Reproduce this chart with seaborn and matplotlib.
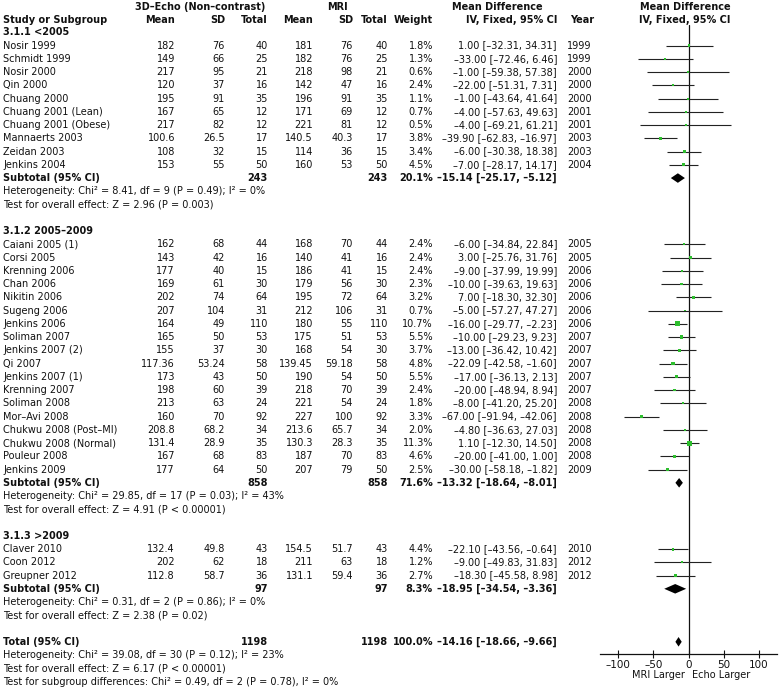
import numpy as np
import pandas as pd
import seaborn as sns
import matplotlib.pyplot as plt

# study level data
study = ["Nosir 1999", "Schmidt 1999", "Nosir 2000", "Qin 2000", "Chuang 2000",
         "Chuang 2001 (Lean)", "Chuang 2001 (Obese)", "Mannaerts 2003", "Zeidan 2003",
         "Jenkins 2004",
         "Caiani 2005 (1)", "Corsi 2005", "Krenning 2006", "Chan 2006", "Nikitin 2006",
         "Sugeng 2006", "Jenkins 2006", "Soliman 2007", "Jenkins 2007 (2)", "Qi 2007",
         "Jenkins 2007 (1)", "Krenning 2007", "Soliman 2008", "Mor-Avi 2008",
         "Chukwu 2008 (Post-MI)", "Chukwu 2008 (Normal)", "Pouleur 2008", "Jenkins 2009",
         "Claver 2010", "Coon 2012", "Greupner 2012"]
group = [0] * 10 + [1] * 18 + [2] * 3
echo_mean = [182, 149, 217, 120, 195, 167, 217, 100.6, 108, 153,
             162, 143, 177, 169, 202, 207, 164, 165, 155, 117.36, 173, 198, 213, 160,
             208.8, 131.4, 167, 177,
             132.4, 202, 112.8]
echo_sd = [76, 66, 95, 37, 91, 65, 82, 26.5, 32, 55,
           68, 42, 40, 61, 74, 104, 49, 50, 37, 53.24, 43, 60, 63, 70, 68.2, 28.9, 68, 64,
           49.8, 62, 58.7]
echo_n = [40, 25, 21, 16, 35, 12, 12, 17, 15, 50,
          44, 16, 15, 30, 64, 31, 110, 53, 30, 58, 50, 39, 24, 92, 34, 35, 83, 50,
          43, 18, 36]
mri_mean = [181, 182, 218, 142, 196, 171, 221, 140.5, 114, 160,
            168, 140, 186, 179, 195, 212, 180, 175, 168, 139.45, 190, 218, 221, 227,
            213.6, 130.3, 187, 207,
            154.5, 211, 131.1]
mri_sd = [76, 76, 98, 47, 91, 69, 81, 40.3, 36, 53,
          70, 41, 41, 56, 72, 106, 55, 51, 54, 59.18, 54, 70, 54, 100, 65.7, 28.3, 70, 79,
          51.7, 63, 59.4]
mri_n = echo_n
weight = [1.8, 1.3, 0.6, 2.4, 1.1, 0.7, 0.5, 3.8, 3.4, 4.5,
          2.4, 2.4, 2.4, 2.3, 3.2, 0.7, 10.7, 5.5, 3.7, 4.8, 5.5, 2.4, 1.8, 3.3, 2.0,
          11.3, 4.6, 2.5,
          4.4, 1.2, 2.7]
md = [1.00, -33.00, -1.00, -22.00, -1.00, -4.00, -4.00, -39.90, -6.00, -7.00,
      -6.00, 3.00, -9.00, -10.00, 7.00, -5.00, -16.00, -10.00, -13.00, -22.09, -17.00,
      -20.00, -8.00, -67.00, -4.80, 1.10, -20.00, -30.00,
      -22.10, -9.00, -18.30]
ci_lo = [-32.31, -72.46, -59.38, -51.31, -43.64, -57.63, -69.21, -62.83, -30.38, -28.17,
         -34.84, -25.76, -37.99, -39.63, -18.30, -57.27, -29.77, -29.23, -36.42, -42.58,
         -36.13, -48.94, -41.20, -91.94, -36.63, -12.30, -41.00, -58.18,
         -43.56, -49.83, -45.58]
ci_hi = [34.31, 6.46, 57.38, 7.31, 41.64, 49.63, 61.21, -16.97, 18.38, 14.17,
         22.84, 31.76, 19.99, 19.63, 32.30, 47.27, -2.23, 9.23, 10.42, -1.60,
         2.13, 8.94, 25.20, -42.06, 27.03, 14.50, 1.00, -1.82,
         -0.64, 31.83, 8.98]
year = [1999, 1999, 2000, 2000, 2000, 2001, 2001, 2003, 2003, 2004,
        2005, 2005, 2006, 2006, 2006, 2006, 2006, 2007, 2007, 2007, 2007, 2007, 2008,
        2008, 2008, 2008, 2008, 2009,
        2010, 2012, 2012]

# subgroup summaries
group_title = ["3.1.1 <2005", "3.1.2 2005-2009", "3.1.3 >2009"]
sub_n = [243, 858, 97]
sub_weight = [20.1, 71.6, 8.3]
sub_md = [-15.14, -13.32, -18.95]
sub_lo = [-25.17, -18.64, -34.54]
sub_hi = [-5.12, -8.01, -3.36]
sub_het = ["Heterogeneity: Chi² = 8.41, df = 9 (P = 0.49); I² = 0%",
           "Heterogeneity: Chi² = 29.85, df = 17 (P = 0.03); I² = 43%",
           "Heterogeneity: Chi² = 0.31, df = 2 (P = 0.86); I² = 0%"]
sub_z = ["Test for overall effect: Z = 2.96 (P = 0.003)",
         "Test for overall effect: Z = 4.91 (P < 0.00001)",
         "Test for overall effect: Z = 2.38 (P = 0.02)"]

total_n = 1198
total_md, total_lo, total_hi = -14.16, -18.66, -9.66
total_notes = ["Heterogeneity: Chi² = 39.08, df = 30 (P = 0.12); I² = 23%",
               "Test for overall effect: Z = 6.17 (P < 0.00001)",
               "Test for subgroup differences: Chi² = 0.49, df = 2 (P = 0.78), I² = 0%"]

xticks = [-100, -50, 0, 50, 100]
side_labels = ["MRI Larger", "Echo Larger"]


def dash(s):
    return s.replace("-", "\u2013")


def num(v):
    return dash(f"{v:g}")


def ci_text(m, lo, hi):
    return dash(f"{m:.2f} [{lo:.2f}, {hi:.2f}]")


# assign a row number to every line of the table
rows = []
r = 0
for g in range(3):
    rows.append(("title", g, r)); r += 1
    for i in [i for i in range(len(study)) if group[i] == g]:
        rows.append(("study", i, r)); r += 1
    rows.append(("sub", g, r)); r += 1
    rows.append(("het", g, r)); r += 1
    rows.append(("z", g, r)); r += 1
    r += 1
total_row = r

df = pd.DataFrame({"study": study, "md": md, "lo": ci_lo, "hi": ci_hi, "weight": weight})
df["row"] = [k for kind, i, k in rows if kind == "study"]

sns.set_theme(style="white")
plt.rcParams["font.family"] = ["DejaVu Sans"]
FS = 7.0

fig = plt.figure(figsize=(7.8, 6.89), dpi=100)
W, H = 780, 689
y0, step = 32.3, 13.25


def row_of(px):
    return (px - y0) / step


tab = fig.add_axes([0, 0, 1, 1])
tab.set_xlim(0, W)
tab.set_ylim(row_of(H), row_of(0))
tab.axis("off")

# column right edges (pixels)
c_em, c_es, c_en, c_mm, c_ms, c_mn, c_w, c_ci, c_yr = 175, 225, 268, 313, 353, 388, 433, 557, 567

h1, h2 = row_of(7), row_of(20)
bold = dict(fontsize=FS, fontweight="bold", va="center", color="#111111")
tab.text(200, h1, dash("3D-Echo (Non-contrast)"), ha="center", **bold)
tab.text(337, h1, "MRI", ha="center", **bold)
tab.text(497, h1, "Mean Difference", ha="center", **bold)
tab.text(685, h1, "Mean Difference", ha="center", **bold)
tab.text(3, h2, "Study or Subgroup", ha="left", **bold)
for x, lab in [(c_em, "Mean"), (c_es, "SD"), (c_en, "Total"), (c_mm, "Mean"),
               (c_ms, "SD"), (c_mn, "Total"), (c_w, "Weight"), (c_ci, "IV, Fixed, 95% CI")]:
    tab.text(x, h2, lab, ha="right", **bold)
tab.text(c_yr + 3, h2, "Year", ha="left", **bold)
tab.text(685, h2, "IV, Fixed, 95% CI", ha="center", **bold)

reg = dict(fontsize=FS, va="center", color="#111111")
for kind, i, k in rows:
    if kind == "title":
        tab.text(3, k, dash(group_title[i]), ha="left", **bold)
    elif kind == "study":
        tab.text(3, k, dash(study[i]), ha="left", **reg)
        for x, v in [(c_em, echo_mean[i]), (c_es, echo_sd[i]), (c_en, echo_n[i]),
                     (c_mm, mri_mean[i]), (c_ms, mri_sd[i]), (c_mn, mri_n[i])]:
            tab.text(x, k, num(v), ha="right", **reg)
        tab.text(c_w, k, f"{weight[i]:.1f}%", ha="right", **reg)
        tab.text(c_ci, k, ci_text(md[i], ci_lo[i], ci_hi[i]), ha="right", **reg)
        tab.text(c_yr, k, str(year[i]), ha="left", **reg)
    elif kind == "sub":
        tab.text(3, k, "Subtotal (95% CI)", ha="left", **bold)
        tab.text(c_en, k, str(sub_n[i]), ha="right", **bold)
        tab.text(c_mn, k, str(sub_n[i]), ha="right", **bold)
        tab.text(c_w, k, f"{sub_weight[i]:.1f}%", ha="right", **bold)
        tab.text(c_ci, k, ci_text(sub_md[i], sub_lo[i], sub_hi[i]), ha="right", **bold)
    elif kind == "het":
        tab.text(3, k, sub_het[i], ha="left", **reg)
    elif kind == "z":
        tab.text(3, k, sub_z[i], ha="left", **reg)

tab.text(3, total_row, "Total (95% CI)", ha="left", **bold)
tab.text(c_en, total_row, str(total_n), ha="right", **bold)
tab.text(c_mn, total_row, str(total_n), ha="right", **bold)
tab.text(c_w, total_row, "100.0%", ha="right", **bold)
tab.text(c_ci, total_row, ci_text(total_md, total_lo, total_hi), ha="right", **bold)
for j, note in enumerate(total_notes):
    tab.text(3, total_row + 1 + j, note, ha="left", **reg)

# side labels under the axis
tab.text(658, row_of(675), side_labels[0], ha="center", **reg)
tab.text(721, row_of(675), side_labels[1], ha="center", **reg)

# forest plot panel
top_px, bot_px, left_px, right_px = 25, 654, 600, 777
fax = fig.add_axes([left_px / W, 1 - bot_px / H, (right_px - left_px) / W, (bot_px - top_px) / H])
fax.set_xlim(-126, 126)
fax.set_ylim(row_of(bot_px), row_of(top_px))
fax.patch.set_alpha(0)
fax.axvline(0, color="#111111", lw=0.9)
fax.hlines(df["row"], df["lo"], df["hi"], color="#222222", lw=0.8)
sizes = ((1.6 + 0.3 * df["weight"]) * 0.72) ** 2
sns.scatterplot(data=df, x="md", y="row", s=sizes, marker="s", color="#2dbe2d",
                edgecolor="none", linewidth=0, ax=fax, legend=False, zorder=3)

sub_rows = [k for kind, i, k in rows if kind == "sub"]
dh = 0.36
for k, m, lo, hi in zip(sub_rows + [total_row], sub_md + [total_md],
                        sub_lo + [total_lo], sub_hi + [total_hi]):
    fax.fill([lo, m, hi, m], [k, k - dh, k, k + dh], color="black", lw=0, zorder=4)

for s in ["top", "right", "left"]:
    fax.spines[s].set_visible(False)
fax.spines["bottom"].set_color("#111111")
fax.spines["bottom"].set_linewidth(0.9)
fax.set_xticks(xticks)
fax.set_xticklabels([dash(str(t)) for t in xticks])
fax.set_yticks([])
fax.tick_params(axis="x", direction="inout", length=6, width=0.8, color="#111111",
                labelsize=FS + 0.5, pad=1, bottom=True, labelcolor="#111111")
fax.set_xlabel("")
fax.set_ylabel("")

fig.savefig("out.png", dpi=100)
